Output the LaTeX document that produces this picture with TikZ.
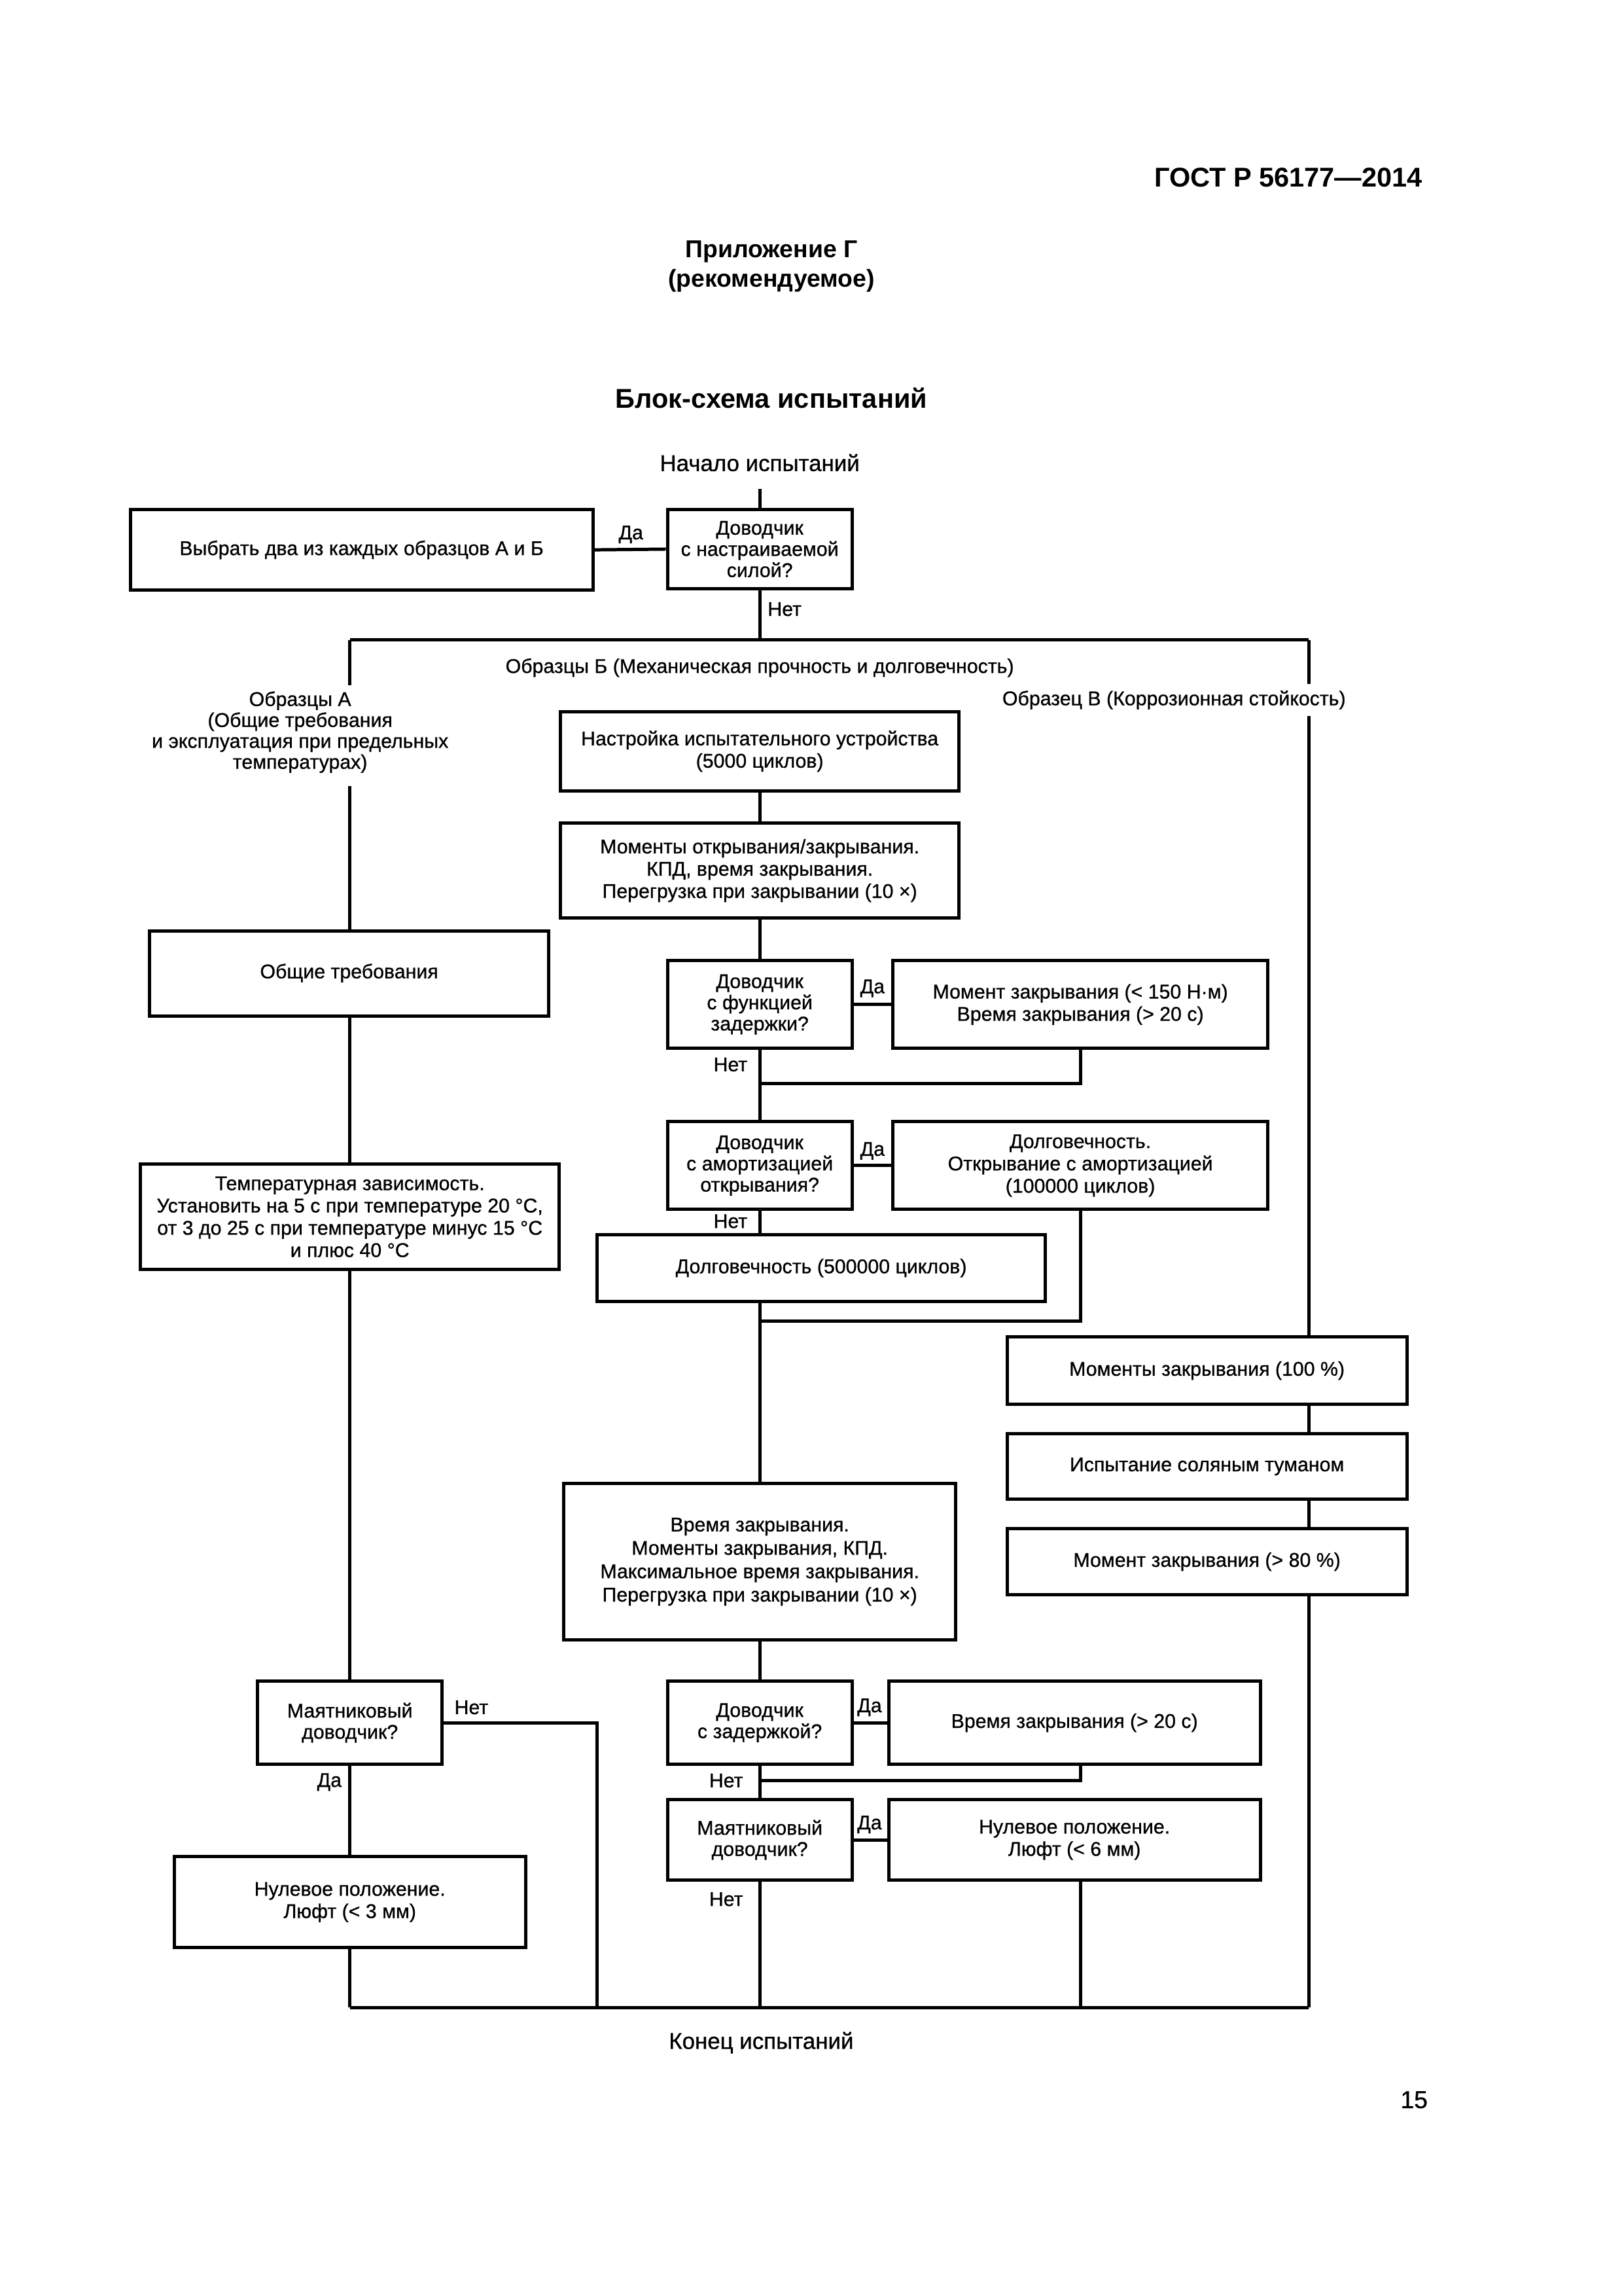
\documentclass[tikz,border=0pt]{standalone}
\usepackage{fontspec}
\setmainfont{Liberation Sans}[UprightFeatures={FakeBold=0.8}]
\usetikzlibrary{calc}
\newcommand\bxfont{\fontsize{7.3}{8.2}\selectfont}
\newcommand\dcfont{\fontsize{7.3}{7.8}\selectfont}
\begin{document}
\begin{tikzpicture}[x=0.18936mm,y=-0.18936mm,
  bx/.style 2 args={draw,line width=1.2pt,minimum width=#1*0.18936mm,minimum height=#2*0.18936mm,inner sep=0pt,align=center,font=\bxfont},
  dc/.style 2 args={bx={#1}{#2},font=\dcfont},
  lbl/.style={inner sep=0pt,align=center,font=\bxfont},
  ln/.style={line width=1.2pt}]
\fill[white] (0,0) rectangle (1109,1568);
\useasboundingbox (0,0) rectangle (1109,1568);

% header
\node[anchor=east,inner sep=0pt,font=\bfseries\fontsize{10}{12}\selectfont] (gost) at (972,121) {ГОСТ Р 56177—2014};
\node[inner sep=0pt,align=center,font=\bfseries\fontsize{9}{10.7}\selectfont] (app) at (527,182) {Приложение Г\\(рекомендуемое)};
\node[inner sep=0pt,font=\bfseries\fontsize{10}{12}\selectfont] (title) at (527,272) {Блок-схема испытаний};
\node[inner sep=0pt,font=\fontsize{8.4}{10}\selectfont] (start) at (519,316) {Начало испытаний};
\node[inner sep=0pt,font=\fontsize{8.4}{10}\selectfont] (endl) at (520,1395) {Конец испытаний};
\node[inner sep=0pt,font=\fontsize{9}{10}\selectfont] (pg) at (966,1434) {15};

% top part
\node[bx={316}{55}] (b1) at (247,375.5) {Выбрать два из каждых образцов А и Б};
\node[dc={126}{54}] (d1) at (519,375) {Доводчик\\с настраиваемой\\силой?};

% branch labels
\node[lbl,font=\fontsize{7.3}{7.7}\selectfont] (la) at (205,500) {Образцы А\\(Общие требования\\и эксплуатация при предельных\\температурах)};
\node[lbl] (lb) at (519,456) {Образцы Б (Механическая прочность и долговечность)};
\node[lbl] (lc) at (802,478) {Образец В (Коррозионная стойкость)};

% left column
\node[bx={273}{58}] (b4) at (238.5,665) {\raisebox{2pt}{Общие требования}};
\node[bx={286}{72}] (b5) at (239,831) {Температурная зависимость.\\Установить на 5 с при температуре 20 °C,\\от 3 до 25 с при температуре минус 15 °C\\и плюс 40 °C};
\node[dc={126}{57}] (d4) at (239,1176.5) {Маятниковый\\доводчик?};
\node[bx={240}{62}] (b6) at (239,1299) {Нулевое положение.\\Люфт (< 3 мм)};

% centre column
\node[bx={272}{54}] (b2) at (519,513) {Настройка испытательного устройства\\(5000 циклов)};
\node[bx={272}{65}] (b3) at (519,594.5) {Моменты открывания/закрывания.\\КПД, время закрывания.\\Перегрузка при закрывании (10 ×)};
\node[dc={126}{60}] (d2) at (519,686) {Доводчик\\с функцией\\задержки?};
\node[bx={256}{60}] (b7) at (738,686) {Момент закрывания (< 150 Н·м)\\Время закрывания (> 20 с)};
\node[dc={126}{60}] (d3) at (519,796) {Доводчик\\с амортизацией\\открывания?};
\node[bx={256}{60}] (b8) at (738,796) {Долговечность.\\Открывание с амортизацией\\(100000 циклов)};
\node[bx={306}{46}] (b9) at (561,866) {Долговечность (500000 циклов)};
\node[bx={268}{107},font=\fontsize{7.3}{8.6}\selectfont] (b10) at (519,1066.5) {Время закрывания.\\Моменты закрывания, КПД.\\Максимальное время закрывания.\\Перегрузка при закрывании (10 ×)};
\node[dc={126}{57}] (d5) at (519,1176.5) {Доводчик\\с задержкой?};
\node[bx={254}{57}] (b11) at (734,1176.5) {Время закрывания (> 20 с)};
\node[dc={126}{55}] (d6) at (519,1256.5) {Маятниковый\\доводчик?};
\node[bx={254}{55}] (b12) at (734,1256.5) {Нулевое положение.\\Люфт (< 6 мм)};

% right column
\node[bx={273}{46}] (b13) at (824.5,936) {Моменты закрывания (100 \%)};
\node[bx={273}{45}] (b14) at (824.5,1001.5) {Испытание соляным туманом};
\node[bx={273}{45}] (b15) at (824.5,1066.5) {Момент закрывания (> 80 \%)};

% coordinates
\coordinate (s0) at (519,334);
\coordinate (jt) at (519,437);
\coordinate (tl) at (239,437);
\coordinate (tr) at (894,437);
\coordinate (la1) at (239,468);
\coordinate (la2) at (239,537);
\coordinate (lc1) at (894,467);
\coordinate (lc2) at (894,489);
\coordinate (j2) at (519,740);
\coordinate (j3) at (519,902);
\coordinate (j4) at (519,1216);
\coordinate (bl) at (239,1371);
\coordinate (br) at (894,1371);
\coordinate (bn) at (408,1371);

% connectors
\draw[ln] (s0) -- (d1.north);
\draw[ln] (d1.west) -- (b1.east);
\draw[ln] (d1.south) -- (jt);
\draw[ln] (tl) -- (tr);
\draw[ln] (tl) -- (la1);
\draw[ln] (la2) -- (b4.north -| la2);
\draw[ln] (tr) -- (lc1);
\draw[ln] (lc2) -- (b13.north -| lc2);

\draw[ln] (b4.south -| tl) -- (b5.north -| tl);
\draw[ln] (b5.south -| tl) -- (d4.north);
\draw[ln] (d4.south) -- (b6.north);
\draw[ln] (d4.east) -| (bn);
\draw[ln] (b6.south) -- (bl);

\draw[ln] (b2.south) -- (b3.north);
\draw[ln] (b3.south) -- (d2.north);
\draw[ln] (d2.east) -- (b7.west);
\draw[ln] (b7.south) |- (j2);
\draw[ln] (d2.south) -- (d3.north);
\draw[ln] (d3.east) -- (b8.west);
\draw[ln] (b8.south) |- (j3);
\draw[ln] (d3.south) -- (d3.south |- b9.north);
\draw[ln] (b10.north |- b9.south) -- (b10.north);
\draw[ln] (b10.south) -- (d5.north);
\draw[ln] (d5.east) -- (b11.west);
\draw[ln] ([xshift=4*0.18936mm]b11.south) |- (j4);
\draw[ln] (d5.south) -- (d6.north);
\draw[ln] (d6.east) -- (b12.west);
\draw[ln] (d6.south) -- (d6.south |- bl);
\draw[ln] ([xshift=4*0.18936mm]b12.south) -- ([xshift=4*0.18936mm]b12.south |- bl);

\draw[ln] (b13.south -| tr) -- (b14.north -| tr);
\draw[ln] (b14.south -| tr) -- (b15.north -| tr);
\draw[ln] (b15.south -| tr) -- (br);
\draw[ln] (bl) -- (br);

% yes / no labels
\node[lbl] (y1) at (431,365) {Да};
\node[lbl] (n1) at (536,416) {Нет};
\node[lbl] (y2) at (596,675) {Да};
\node[lbl] (n2) at (499,727) {Нет};
\node[lbl] (y3) at (596,786) {Да};
\node[lbl] (n3) at (499,834) {Нет};
\node[lbl] (y5) at (594,1166) {Да};
\node[lbl] (n5) at (496,1216) {Нет};
\node[lbl] (y6) at (594,1246) {Да};
\node[lbl] (n6) at (496,1297) {Нет};
\node[lbl] (n4) at (322,1166) {Нет};
\node[lbl] (y4) at (225,1217) {Да};
\end{tikzpicture}
\end{document}
